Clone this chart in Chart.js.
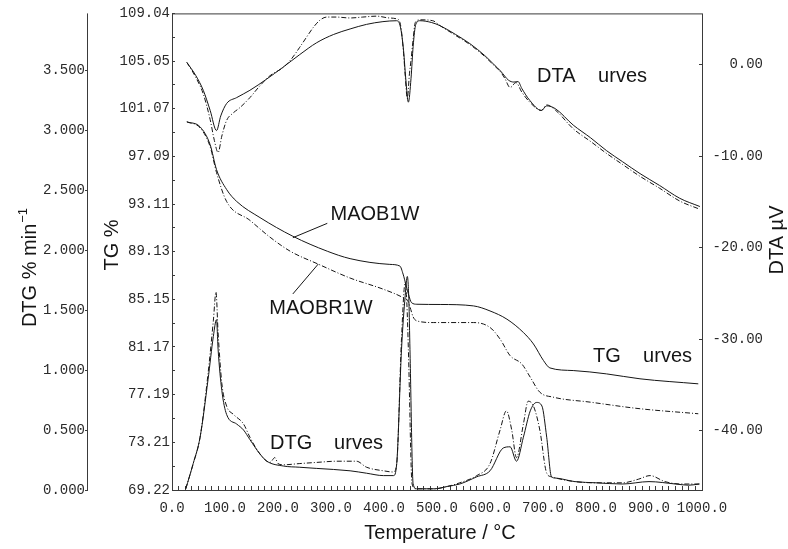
<!DOCTYPE html>
<html>
<head>
<meta charset="utf-8">
<title>MAOB1W / MAOBR1W TG-DTG-DTA</title>
<script src="https://cdn.jsdelivr.net/npm/chart.js@4.4.1/dist/chart.umd.min.js"></script>
<style>
  html, body { margin: 0; padding: 0; background: #fff; }
  #wrap { width: 788px; height: 549px; position: relative; }
</style>
</head>
<body>
<div id="wrap"><canvas id="chart"></canvas></div>
<script>
// ── axis ticks ─────────────────────────────────────────────
const xMajorTicks = [0, 100, 200, 300, 400, 500, 600, 700, 800, 900, 1000];
const tgTicks = [109.04, 105.05, 101.07, 97.09, 93.11, 89.13, 85.15, 81.17, 77.19, 73.21, 69.22];
const dtgTicks = [0, 0.5, 1.0, 1.5, 2.0, 2.5, 3.0, 3.5];
const dtaTicks = [0, -10, -20, -30, -40];

// ── TG (%) ─────────────────────────────────────────────────
const tgTempB = [28, 53, 72, 84, 103, 122, 166, 228, 293, 336, 411, 430, 436, 442, 446, 452, 462, 506, 569, 600, 632, 663, 682, 701, 713, 757, 820, 883, 993];
const tgB = [99.98, 99.56, 98.07, 95.99, 94.33, 93.33, 91.98, 90.42, 89.17, 88.55, 88.07, 87.93, 87.26, 86.26, 85.60, 84.87, 84.74, 84.72, 84.60, 84.18, 83.49, 82.38, 81.42, 80.03, 79.42, 79.20, 78.92, 78.51, 78.09];
const tgTempBR = [28, 53, 72, 84, 103, 147, 185, 223, 276, 336, 399, 436, 445, 449, 455, 462, 493, 569, 600, 619, 638, 660, 676, 694, 719, 789, 883, 993];
const tgBR = [99.98, 99.48, 97.90, 95.74, 93.33, 91.75, 90.34, 89.17, 88.09, 86.93, 85.99, 85.29, 85.02, 84.52, 83.68, 83.35, 83.21, 83.21, 82.80, 81.83, 80.44, 79.75, 78.64, 77.39, 76.98, 76.56, 76.01, 75.59];

// ── DTG (% min-1) ──────────────────────────────────────────
const dtgTempB = [26, 40, 53, 68, 78, 84, 87, 94, 103, 122, 135, 147, 166, 179, 210, 240, 273, 336, 367, 399, 418, 424, 433, 440, 444, 447, 449, 455, 462, 495, 520, 543, 575, 600, 625, 638, 650, 663, 676, 688, 698, 707, 716, 723, 760, 800, 850, 900, 950, 975, 995];
const dtgB = [0.01, 0.22, 0.44, 0.92, 1.28, 1.42, 1.17, 0.83, 0.63, 0.55, 0.50, 0.42, 0.30, 0.24, 0.20, 0.19, 0.18, 0.16, 0.14, 0.12, 0.12, 0.22, 1.17, 1.62, 1.78, 1.57, 1.17, 0.05, 0.01, 0.01, 0.03, 0.05, 0.11, 0.16, 0.35, 0.36, 0.24, 0.44, 0.66, 0.73, 0.70, 0.44, 0.11, 0.10, 0.07, 0.06, 0.05, 0.07, 0.05, 0.04, 0.05];
const dtgTempBR = [26, 40, 53, 68, 78, 83, 87, 94, 103, 116, 135, 147, 166, 185, 194, 200, 210, 240, 273, 311, 348, 367, 399, 418, 424, 433, 440, 443, 446, 453, 460, 495, 520, 543, 575, 600, 619, 631, 641, 650, 663, 672, 682, 694, 707, 716, 760, 800, 850, 880, 902, 930, 960, 995];
const dtgBR = [0.01, 0.22, 0.44, 0.97, 1.41, 1.65, 1.31, 0.89, 0.70, 0.63, 0.55, 0.44, 0.30, 0.23, 0.27, 0.22, 0.21, 0.22, 0.23, 0.24, 0.24, 0.19, 0.16, 0.15, 0.22, 1.26, 1.73, 1.57, 1.17, 0.05, 0.01, 0.01, 0.03, 0.06, 0.12, 0.22, 0.50, 0.66, 0.50, 0.27, 0.55, 0.74, 0.70, 0.50, 0.14, 0.11, 0.07, 0.06, 0.06, 0.09, 0.12, 0.07, 0.05, 0.05];

// ── DTA (µV) ───────────────────────────────────────────────
const dtaTempB = [28, 45, 59, 72, 84, 92, 103, 122, 147, 178, 209, 241, 273, 305, 336, 367, 398, 424, 431, 437, 441, 446, 451, 455, 460, 468, 490, 506, 535, 562, 590, 606, 620, 635, 645, 653, 660, 675, 697, 707, 723, 757, 790, 820, 850, 883, 920, 958, 996];
const dtaB = [0.25, -1.2, -2.8, -5.0, -7.2, -5.6, -4.25, -3.6, -2.8, -1.6, -0.3, 1.1, 2.4, 3.3, 3.9, 4.4, 4.7, 4.8, 4.1, 1.5, -1.5, -4.1, -1.5, 2.0, 4.4, 4.8, 4.6, 4.25, 3.3, 2.3, 1.0, 0.1, -0.7, -1.7, -1.9, -1.85, -2.6, -3.9, -5.0, -4.5, -4.8, -6.6, -8.0, -9.4, -10.6, -11.9, -13.2, -14.6, -15.5];
const dtaTempBR = [28, 45, 59, 72, 80, 87, 94, 103, 115, 128, 147, 166, 185, 210, 225, 241, 255, 267, 280, 292, 310, 336, 360, 386, 410, 424, 431, 437, 440, 444, 448, 451, 455, 459, 468, 492, 506, 535, 562, 590, 606, 620, 628, 638, 649, 660, 675, 697, 707, 724, 757, 790, 820, 850, 883, 920, 958, 996];
const dtaBR = [0.25, -1.4, -3.2, -6.0, -8.3, -9.6, -7.8, -6.1, -5.3, -4.7, -3.6, -2.3, -1.2, -0.3, 0.6, 1.9, 3.1, 4.1, 4.9, 5.2, 5.2, 5.1, 5.2, 5.3, 5.1, 5.0, 4.4, 1.2, -1.2, -3.7, -1.0, 0.5, 2.8, 4.6, 4.9, 4.8, 4.25, 3.2, 2.2, 0.9, 0.0, -0.8, -1.5, -2.5, -1.96, -3.0, -4.1, -5.0, -4.4, -5.0, -7.0, -8.4, -9.7, -10.9, -12.2, -13.5, -14.9, -15.8];

// ── 樣式 ───────────────────────────────────────────────────
const INK = '#151515';
const AXIS = '#3a3a3a';
const DASH_DOT = [5, 2, 1, 2];
const MONO = { family: '"Liberation Mono", "DejaVu Sans Mono", monospace', size: 14 };
const SANS = '"Liberation Sans", Arial, sans-serif';

function points(xs, ys) {
  return xs.map((x, i) => ({ x, y: ys[i] }));
}

function series(label, xs, ys, axis, dashed) {
  return {
    label,
    data: points(xs, ys),
    yAxisID: axis,
    borderColor: INK,
    borderWidth: 1,
    borderDash: dashed ? DASH_DOT : [],
    pointRadius: 0,
    fill: false,
    cubicInterpolationMode: 'monotone',
  };
}

function fixedTicks(values) {
  return scale => { scale.ticks = values.map(v => ({ value: v })); };
}

// x 軸小刻度：主刻度之間每 12.5 °C 一格
const xTickValues = [];
for (let t = xMajorTicks[0]; t <= xMajorTicks[xMajorTicks.length - 1] + 1e-9; t += 12.5) xTickValues.push(t);

// TG 軸半格小刻度
const tgTickValues = [];
tgTicks.forEach((v, i) => {
  tgTickValues.push(v);
  if (i < tgTicks.length - 1) tgTickValues.push((v + tgTicks[i + 1]) / 2);
});

// ── 外框、DTG 軸線 ─────────────────────────────────────────
const framePlugin = {
  id: 'frame',
  afterDraw(chart) {
    const { ctx, chartArea: a, scales } = chart;
    ctx.save();
    ctx.strokeStyle = AXIS;
    ctx.lineWidth = 1;
    ctx.strokeRect(a.left + 0.5, a.top + 0.5, a.right - a.left, a.bottom - a.top);
    const dtg = scales.dtg;
    const x = Math.round(dtg.right) - 0.5;
    ctx.beginPath();
    ctx.moveTo(x, dtg.getPixelForValue(dtg.max));
    ctx.lineTo(x, dtg.getPixelForValue(dtgTicks[0]));
    ctx.stroke();
    ctx.restore();
  },
};

// ── 文字標註 ───────────────────────────────────────────────
const notesPlugin = {
  id: 'notes',
  afterDraw(chart) {
    const { ctx, scales } = chart;
    const px = (t, v) => [scales.x.getPixelForValue(t), scales.y.getPixelForValue(v)];
    ctx.save();
    ctx.fillStyle = INK;
    ctx.strokeStyle = INK;
    ctx.lineWidth = 1;
    ctx.textBaseline = 'middle';

    // leader lines (TG coordinates)
    [[[293, 91.5], [228, 90.3]], [[228, 85.6], [276, 88.1]]].forEach(([a, b]) => {
      const p = px(a[0], a[1]);
      const q = px(b[0], b[1]);
      ctx.beginPath();
      ctx.moveTo(p[0], p[1]);
      ctx.lineTo(q[0], q[1]);
      ctx.stroke();
    });

    ctx.font = `20px ${SANS}`;
    ctx.textAlign = 'center';
    ctx.fillText('MAOB1W', 375, 214);
    ctx.fillText('MAOBR1W', 321, 308);
    ctx.fillText('Temperature / °C', 440, 533);

    // "C" 缺字的曲線標籤
    [['DTA', 'urves', 537, 647, 76], ['TG', 'urves', 593, 692, 356], ['DTG', 'urves', 270, 383, 443]].forEach(([a, b, x0, x1, y]) => {
      ctx.textAlign = 'left';
      ctx.fillText(a, x0, y);
      ctx.textAlign = 'right';
      ctx.fillText(b, x1, y);
    });

    // axis titles
    const rotated = (x, y, fn) => {
      ctx.save();
      ctx.translate(x, y);
      ctx.rotate(-Math.PI / 2);
      fn();
      ctx.restore();
    };
    rotated(112, 245, () => { ctx.textAlign = 'center'; ctx.fillText('TG %', 0, 0); });
    rotated(777, 240, () => { ctx.textAlign = 'center'; ctx.fillText('DTA µV', 0, 0); });
    rotated(30, 268, () => {
      const main = 'DTG % min';
      const w1 = ctx.measureText(main).width;
      ctx.font = `13px ${SANS}`;
      const w2 = ctx.measureText('−1').width;
      ctx.textAlign = 'left';
      ctx.fillText('−1', -(w1 + w2) / 2 + w1 + 1, -7);
      ctx.font = `20px ${SANS}`;
      ctx.fillText(main, -(w1 + w2) / 2, 0);
    });
    ctx.restore();
  },
};

new Chart(document.getElementById('chart'), {
  type: 'line',
  data: {
    datasets: [
      series('TG MAOB1W', tgTempB, tgB, 'y', false),
      series('TG MAOBR1W', tgTempBR, tgBR, 'y', true),
      series('DTG MAOB1W', dtgTempB, dtgB, 'dtg', false),
      series('DTG MAOBR1W', dtgTempBR, dtgBR, 'dtg', true),
      series('DTA MAOB1W', dtaTempB, dtaB, 'dta', false),
      series('DTA MAOBR1W', dtaTempBR, dtaBR, 'dta', true),
    ],
  },
  options: {
    responsive: true,
    maintainAspectRatio: false,
    animation: false,
    layout: { padding: { top: 11, left: 40, right: 25, bottom: 0 } },
    plugins: { legend: { display: false }, tooltip: { enabled: false } },
    scales: {
      x: {
        type: 'linear',
        position: 'bottom',
        min: 0,
        max: 1000,
        afterBuildTicks: fixedTicks(xTickValues),
        afterFit: s => { s.height = 59; },
        border: { display: false },
        grid: { drawOnChartArea: false, tickLength: -4, color: AXIS },
        ticks: {
          autoSkip: false,
          maxRotation: 0,
          padding: 14,
          color: '#2a2a2a',
          font: MONO,
          callback: v => (xMajorTicks.includes(v) ? v.toFixed(1) : ''),
        },
      },
      y: {
        type: 'linear',
        position: 'left',
        weight: 1,
        min: 69.22,
        max: 109.04,
        afterBuildTicks: fixedTicks(tgTickValues),
        afterFit: s => { s.width = 84; },
        border: { display: false },
        grid: { drawOnChartArea: false, tickLength: -3, color: AXIS },
        ticks: {
          autoSkip: false,
          padding: 5,
          color: '#2a2a2a',
          font: MONO,
          callback: v => (tgTicks.includes(v) ? v.toFixed(2) : ''),
        },
      },
      dtg: {
        type: 'linear',
        position: 'left',
        weight: 2,
        min: 0,
        max: 3.973,
        afterBuildTicks: fixedTicks(dtgTicks),
        afterFit: s => { s.width = 48; },
        border: { display: false },
        grid: { drawOnChartArea: false, tickLength: 3, color: AXIS },
        ticks: {
          autoSkip: false,
          padding: 0,
          color: '#2a2a2a',
          font: MONO,
          callback: v => v.toFixed(3),
        },
      },
      dta: {
        type: 'linear',
        position: 'right',
        min: -46.47,
        max: 5.60,
        afterBuildTicks: fixedTicks(dtaTicks),
        afterFit: s => { s.width = 61; },
        border: { display: false },
        grid: { drawOnChartArea: false, tickLength: -3, color: AXIS },
        ticks: {
          autoSkip: false,
          crossAlign: 'far',
          color: '#2a2a2a',
          font: MONO,
          callback: v => v.toFixed(2),
        },
      },
    },
  },
  plugins: [framePlugin, notesPlugin],
});
</script>
</body>
</html>
